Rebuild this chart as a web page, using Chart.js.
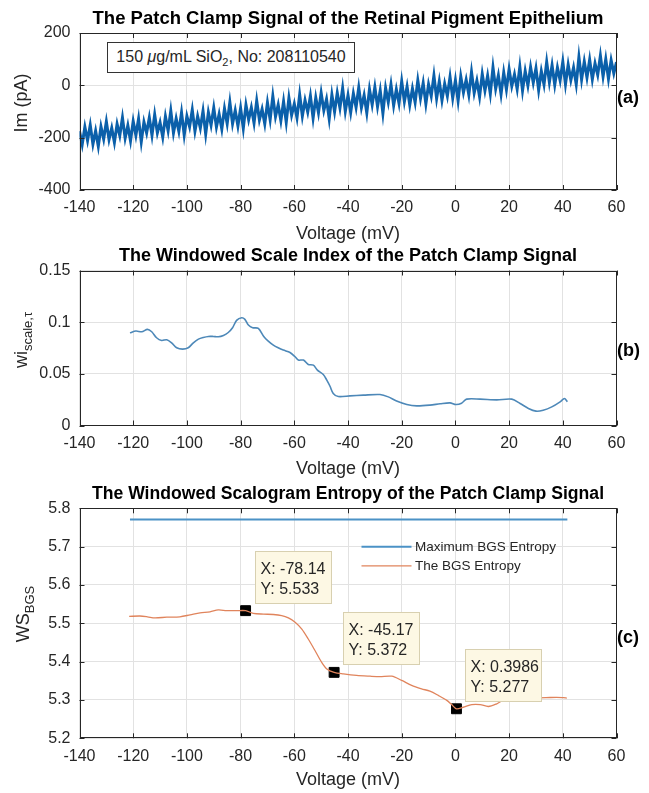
<!DOCTYPE html>
<html>
<head>
<meta charset="utf-8">
<script src="https://cdn.jsdelivr.net/npm/chart.js@4.4.1/dist/chart.umd.min.js"></script>
<style>
  body { margin: 0; background: #fff; width: 649px; height: 793px; position: relative; overflow: hidden;
         font-family: "Liberation Sans", Arial, sans-serif; color: #262626; }
  canvas { position: absolute; left: 0; }
  .ttl { position: absolute; left: 348px; transform: translateX(-50%); font-weight: bold; font-size: 18.5px;
         line-height: 22px; white-space: nowrap; color: #000; }
  .ylab { position: absolute; transform: translate(-50%, -50%) rotate(-90deg); font-size: 18px; white-space: nowrap; }
  .ylab sub { font-size: 13px; }
  .tag { position: absolute; left: 617px; font-weight: bold; font-size: 18px; line-height: 20px; color: #000; }
  .note { position: absolute; left: 107px; top: 42px; width: 246px; height: 29px; border: 1.3px solid #333;
          background: #fff; font-size: 16px; line-height: 28px; text-align: center; white-space: nowrap; }
  .note sub { font-size: 11px; }
</style>
</head>
<body>
<canvas id="chartA" width="649" height="246" style="top:0px"></canvas>
<canvas id="chartB" width="649" height="234" style="top:246px"></canvas>
<canvas id="chartC" width="649" height="313" style="top:480px"></canvas>

<div class="ttl" style="top:7px">The Patch Clamp Signal of the Retinal Pigment Epithelium</div>
<div class="ttl" style="top:244px; font-size:18px">The Windowed Scale Index of the Patch Clamp Signal</div>
<div class="ttl" style="top:482px; font-size:17.6px">The Windowed Scalogram Entropy of the Patch Clamp Signal</div>

<div class="ylab" style="left:21px; top:103px">Im (pA)</div>
<div class="ylab" style="left:23px; top:340px">wi<sub>scale,&tau;</sub></div>
<div class="ylab" style="left:25px; top:614px">WS<sub>BGS</sub></div>

<div class="tag" style="top:87px">(a)</div>
<div class="tag" style="top:340px">(b)</div>
<div class="tag" style="top:627px">(c)</div>

<div class="note">150 <i>&mu;</i>g/mL SiO<sub>2</sub>, No: 208110540</div>

<script>
// panel (a): membrane current vs voltage
const voltA = [
  -140, -139, -138, -137, -136, -135, -134, -133, -132, -131,
  -130, -129, -128, -127, -126, -125, -124, -123, -122, -121,
  -120, -119, -118, -117, -116, -115, -114, -113, -112, -111,
  -110, -109, -108, -107, -106, -105, -104, -103, -102, -101,
  -100, -99, -98, -97, -96, -95, -94, -93, -92, -91,
  -90, -89, -88, -87, -86, -85, -84, -83, -82, -81,
  -80, -79, -78, -77, -76, -75, -74, -73, -72, -71,
  -70, -69, -68, -67, -66, -65, -64, -63, -62, -61,
  -60, -59, -58, -57, -56, -55, -54, -53, -52, -51,
  -50, -49, -48, -47, -46, -45, -44, -43, -42, -41,
  -40, -39, -38, -37, -36, -35, -34, -33, -32, -31,
  -30, -29, -28, -27, -26, -25, -24, -23, -22, -21,
  -20, -19, -18, -17, -16, -15, -14, -13, -12, -11,
  -10, -9, -8, -7, -6, -5, -4, -3, -2, -1,
  0, 1, 2, 3, 4, 5, 6, 7, 8, 9,
  10, 11, 12, 13, 14, 15, 16, 17, 18, 19,
  20, 21, 22, 23, 24, 25, 26, 27, 28, 29,
  30, 31, 32, 33, 34, 35, 36, 37, 38, 39,
  40, 41, 42, 43, 44, 45, 46, 47, 48, 49,
  50, 51, 52, 53, 54, 55, 56, 57, 58, 59,
  60
];
const imA = [
  -175, -226, -159, -211, -152, -225, -174, -233, -158, -205,
  -139, -207, -163, -218, -148, -192, -124, -202, -153, -212,
  -137, -191, -128, -216, -140, -182, -124, -191, -112, -182,
  -142, -198, -119, -173, -97, -182, -127, -176, -104, -190,
  -118, -158, -94, -175, -118, -163, -98, -186, -103, -152,
  -86, -159, -110, -167, -89, -146, -65, -147, -96, -155,
  -87, -164, -75, -131, -85, -144, -59, -132, -91, -147,
  -66, -131, -41, -120, -74, -135, -62, -141, -48, -114,
  -71, -124, -36, -117, -57, -102, -41, -125, -47, -104,
  -29, -96, -53, -128, -36, -101, -29, -86, -11, -99,
  -38, -103, -31, -84, -9, -85, -38, -105, -15, -74,
  -7, -81, -20, -107, -10, -64, 3, -77, -16, -69,
  15, -62, -5, -75, -12, -65, 19, -50, 9, -71,
  4, -41, 37, -50, 15, -57, 6, -41, 32, -48,
  19, -59, 34, -27, 21, -36, 51, -29, 18, -43,
  43, -20, 37, -32, 68, -13, 38, -34, 49, -16,
  62, -3, 42, -14, 71, -20, 54, -1, 70, 10,
  65, -18, 54, 3, 89, 12, 77, 2, 68, 19,
  90, 4, 79, 20, 68, 4, 108, 22, 91, 30,
  98, 23, 84, 40, 113, 34, 100, 25, 96, 46,
  89
];

// panel (b): windowed scale index
const voltB = [
  -121.2, -119, -116.8, -114.7, -113.1, -111.3, -109.4, -107.5, -105.7, -103.8,
  -101.6, -99.5, -97.6, -95.7, -93.9, -92, -90.2, -88.3, -86.4, -84.6,
  -83, -81.5, -79.6, -78.4, -77.1, -75.5, -73.4, -71.3, -69.7, -67.8,
  -66, -64.1, -61.6, -59.7, -58.5, -56.6, -54.8, -52.9, -51.4, -49.2,
  -47.9, -46.7, -45.5, -43.6, -39.3, -34.3, -28.1, -25, -21.9, -18.1,
  -14.4, -9.5, -5.7, -2, 0.2, 2.3, 4.2, 9.2, 15.4, 21,
  24.1, 27.2, 30, 32.7, 35.9, 39, 40.6, 41.7
];
const wiB = [
  0.0897, 0.0914, 0.0907, 0.093, 0.0907, 0.0849, 0.0823, 0.083, 0.080, 0.0752,
  0.0739, 0.0752, 0.080, 0.0836, 0.0852, 0.0862, 0.0862, 0.0859, 0.0872, 0.090,
  0.0946, 0.1017, 0.1043, 0.1027, 0.0972, 0.0946, 0.094, 0.0859, 0.0817, 0.0778,
  0.0752, 0.073, 0.0707, 0.0665, 0.0633, 0.0633, 0.0591, 0.0584, 0.0536, 0.0494,
  0.0439, 0.038, 0.031, 0.028, 0.0287, 0.0294, 0.030, 0.0277, 0.0236, 0.0203,
  0.019, 0.0197, 0.021, 0.0219, 0.0203, 0.0216, 0.0255, 0.0255, 0.0248, 0.0255,
  0.0213, 0.0165, 0.0139, 0.0148, 0.018, 0.0229, 0.0262, 0.0229
];

// panel (c): windowed scalogram entropy
const voltC = [
  -121.5, -117.5, -114.7, -111.9, -107.5, -102.6, -98.8, -95.1, -91.4, -88.3,
  -85.2, -81.5, -78.14, -75.3, -71.5, -67.8, -64.7, -62.2, -59.7, -57.2,
  -54.8, -52.3, -49.8, -47.9, -45.17, -41.7, -36.8, -31.8, -28.1, -23.7,
  -20, -16.3, -12.6, -9.5, -6.4, -3.2, -1.4, 0.3986, 2.9, 6.1,
  9.2, 12.3, 15.4, 17.8, 22, 27, 33.7, 37.7, 40.2, 41.5
];
const wsC = [
  5.518, 5.519, 5.517, 5.514, 5.516, 5.517, 5.522, 5.527, 5.530, 5.535,
  5.533, 5.533, 5.533, 5.526, 5.524, 5.523, 5.520, 5.514, 5.503, 5.485,
  5.459, 5.429, 5.398, 5.381, 5.372, 5.368, 5.364, 5.362, 5.361, 5.362,
  5.351, 5.338, 5.329, 5.323, 5.312, 5.299, 5.288, 5.277, 5.281, 5.288,
  5.288, 5.283, 5.290, 5.299, 5.302, 5.305, 5.306, 5.307, 5.306, 5.305
];
const maxX = [-121.2, 41.7];
const maxY = [5.771, 5.771];
const tipX = [-78.14, -45.17, 0.3986];
const tipY = [5.533, 5.372, 5.277];
const legendNames = ["Maximum BGS Entropy", "The BGS Entropy"];

Chart.defaults.font.family = '"Liberation Sans", Arial, sans-serif';
Chart.defaults.font.size = 16;
Chart.defaults.color = "#262626";

// matlab style box with inward ticks
const axesBox = {
  id: "axesBox",
  afterDatasetsDraw(chart) {
    const ctx = chart.ctx;
    const a = chart.chartArea;
    const x = chart.scales.x;
    const y = chart.scales.y;
    ctx.save();
    ctx.strokeStyle = "#262626";
    ctx.lineWidth = 1;
    ctx.strokeRect(Math.round(a.left) + 0.5, Math.round(a.top) + 0.5, Math.round(a.width) - 1, Math.round(a.height) - 1);
    ctx.beginPath();
    x.ticks.forEach((t) => {
      const px = Math.round(x.getPixelForValue(t.value)) + 0.5;
      ctx.moveTo(px, a.bottom); ctx.lineTo(px, a.bottom - 5);
      ctx.moveTo(px, a.top); ctx.lineTo(px, a.top + 5);
    });
    y.ticks.forEach((t) => {
      const py = Math.round(y.getPixelForValue(t.value)) + 0.5;
      ctx.moveTo(a.left, py); ctx.lineTo(a.left + 5, py);
      ctx.moveTo(a.right, py); ctx.lineTo(a.right - 5, py);
    });
    ctx.stroke();
    ctx.restore();
  },
};

// legend drawn inside the plot, no frame
const insideLegend = {
  id: "insideLegend",
  afterDraw(chart) {
    const ctx = chart.ctx;
    const a = chart.chartArea;
    ctx.save();
    ctx.font = '13.5px "Liberation Sans", Arial, sans-serif';
    ctx.textBaseline = "middle";
    [0, 1].forEach((i) => {
      const ds = chart.data.datasets[i];
      const yy = a.top + 38.5 + i * 19;
      ctx.strokeStyle = ds.borderColor;
      ctx.lineWidth = ds.borderWidth;
      ctx.beginPath();
      ctx.moveTo(a.left + 282, yy);
      ctx.lineTo(a.left + 332, yy);
      ctx.stroke();
      ctx.fillStyle = "#262626";
      ctx.fillText(legendNames[i], a.left + 335.5, yy);
    });
    ctx.restore();
  },
};

// data tips next to the marked points
const dataTips = {
  id: "dataTips",
  afterDraw(chart) {
    const ctx = chart.ctx;
    const x = chart.scales.x;
    const y = chart.scales.y;
    ctx.save();
    ctx.font = '16px "Liberation Sans", Arial, sans-serif';
    ctx.textBaseline = "middle";
    tipX.forEach((vx, i) => {
      const px = x.getPixelForValue(vx);
      const py = y.getPixelForValue(tipY[i]);
      const bx = Math.round(px + 9) + 0.5;
      const by = Math.round(py - 60) + 0.5;
      ctx.fillStyle = "#fdf8e4";
      ctx.fillRect(bx, by, 76, 52);
      ctx.strokeStyle = "#d8d0b0";
      ctx.lineWidth = 1;
      ctx.strokeRect(bx, by, 76, 52);
      ctx.fillStyle = "#262626";
      ctx.fillText("X: " + vx, bx + 5, by + 18);
      ctx.fillText("Y: " + tipY[i], bx + 5, by + 38);
    });
    ctx.restore();
  },
};

function xScale(h, padBottom) {
  return {
    type: "linear",
    min: -140,
    max: 60,
    ticks: { stepSize: 20, padding: 8.4, maxRotation: 0 },
    grid: { color: "#e2e2e2", drawTicks: false },
    border: { display: false },
    title: { display: true, text: "Voltage (mV)", font: { size: 18 }, padding: { top: 0, bottom: padBottom } },
    afterFit: (s) => { s.height = h; },
  };
}

function yScale(min, max, step) {
  return {
    min: min,
    max: max,
    ticks: { stepSize: step, padding: 9, callback: (v) => String(Math.round(v * 100) / 100) },
    grid: { color: "#e2e2e2", drawTicks: false },
    border: { display: false },
    afterFit: (s) => { s.width = 79.5; },
  };
}

function baseOptions(padTop, xs, ys) {
  return {
    responsive: false,
    animation: false,
    layout: { padding: { top: padTop, right: 32.5, left: 0, bottom: 0 } },
    plugins: { legend: { display: false }, tooltip: { enabled: false }, title: { display: false } },
    scales: { x: xs, y: ys },
  };
}

new Chart("chartA", {
  type: "line",
  data: {
    datasets: [
      {
        data: voltA.map((v, i) => ({ x: v, y: imA[i] })),
        borderColor: "#0b60aa",
        borderWidth: 3,
        pointRadius: 0,
        tension: 0,
      },
    ],
  },
  options: baseOptions(33, xScale(56, 1.2), yScale(-400, 200, 200)),
  plugins: [axesBox],
});

new Chart("chartB", {
  type: "line",
  data: {
    datasets: [
      {
        data: voltB.map((v, i) => ({ x: v, y: wiB[i] })),
        borderColor: "#4d88b8",
        borderWidth: 1.6,
        pointRadius: 0,
        tension: 0.3,
      },
    ],
  },
  options: baseOptions(24.5, xScale(54.5, 0), yScale(0, 0.15, 0.05)),
  plugins: [axesBox],
});

new Chart("chartC", {
  type: "line",
  data: {
    datasets: [
      {
        data: maxX.map((v, i) => ({ x: v, y: maxY[i] })),
        borderColor: "#4b92c6",
        borderWidth: 2,
        pointRadius: 0,
      },
      {
        data: voltC.map((v, i) => ({ x: v, y: wsC[i] })),
        borderColor: "#e0845c",
        borderWidth: 1.3,
        pointRadius: 0,
        tension: 0.3,
      },
      {
        data: tipX.map((v, i) => ({ x: v, y: tipY[i] })),
        showLine: false,
        pointStyle: "rect",
        pointRadius: 7,
        backgroundColor: "#000",
        borderColor: "#000",
        borderWidth: 1,
      },
    ],
  },
  options: baseOptions(28.3, xScale(54.7, 2.2), yScale(5.2, 5.8, 0.1)),
  plugins: [axesBox, insideLegend, dataTips],
});
</script>
</body>
</html>
